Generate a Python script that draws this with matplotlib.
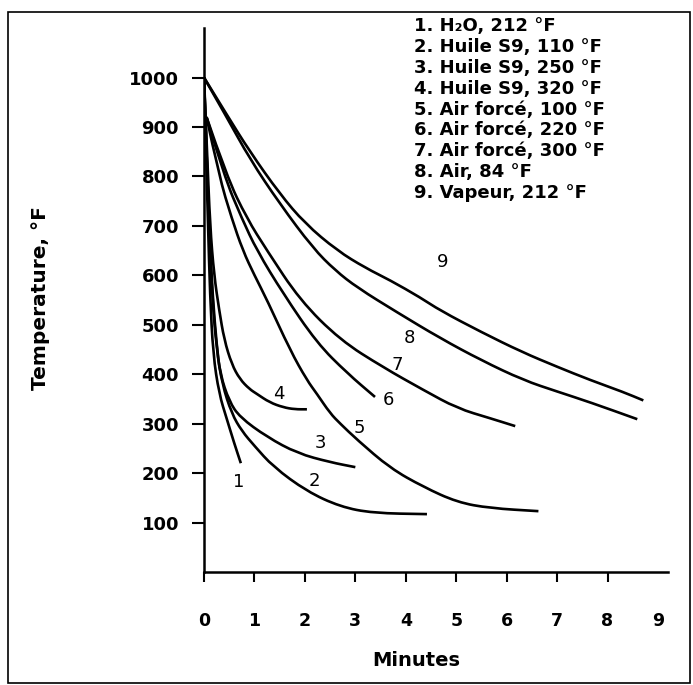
import matplotlib
matplotlib.use("Agg")
import matplotlib.pyplot as plt
from matplotlib.patches import Rectangle, PathPatch
from matplotlib.path import Path

# cooling curves: minutes -> temperature (°F)
x1 = [0, 0.04, 0.08, 0.12, 0.18, 0.3, 0.45, 0.6, 0.73]
y1 = [1000, 850, 700, 560, 440, 360, 310, 260, 220]

x2 = [0, 0.05, 0.1, 0.16, 0.25, 0.36, 0.55, 0.75, 1.0, 1.37, 2.04, 2.7, 3.35, 4.42]
y2 = [1000, 850, 700, 560, 450, 380, 320, 285, 255, 213, 163, 132, 119, 117]

x3 = [0, 0.05, 0.1, 0.17, 0.25, 0.32, 0.5, 0.71, 1.25, 1.85, 2.5, 3.0]
y3 = [1000, 850, 700, 560, 460, 400, 345, 313, 273, 240, 222, 212]

x4 = [0, 0.06, 0.12, 0.2, 0.3, 0.4, 0.55, 0.71, 0.9, 1.05, 1.3, 1.57, 1.8, 2.04]
y4 = [1000, 850, 700, 600, 530, 470, 420, 390, 370, 360, 343, 333, 329, 329]

x5 = [0.05, 0.3, 0.55, 0.77, 1.0, 1.25, 1.71, 2.04, 2.24, 2.5, 2.7, 3.04, 3.69,
      4.35, 5.02, 5.67, 6.63]
y5 = [920, 800, 715, 650, 600, 550, 448, 388, 360, 321, 300, 267, 210,
      172, 141, 129, 123]

x6 = [0.05, 0.4, 0.75, 1.05, 1.57, 2.24, 2.84, 3.39]
y6 = [920, 800, 715, 650, 563, 463, 402, 354]

x7 = [0.05, 0.45, 0.85, 1.25, 1.9, 2.7, 3.55, 4.35, 5.02, 5.67, 6.17]
y7 = [920, 800, 715, 650, 550, 469, 414, 368, 331, 311, 295]

x8 = [0, 0.45, 0.91, 1.5, 2.16, 2.6, 3.04, 3.83, 4.68, 5.5, 6.33, 7.0, 7.66, 8.59]
y8 = [1000, 920, 835, 745, 655, 610, 575, 525, 473, 428, 388, 365, 343, 309]

x9 = [0, 0.45, 0.91, 1.5, 2.0, 2.64, 3.2, 3.69, 4.29, 4.68, 5.5, 6.3, 7.0,
      7.66, 8.31, 8.71]
y9 = [1000, 925, 850, 765, 705, 650, 615, 590, 555, 529, 485, 445, 415,
      388, 364, 347]

curves = [(x1, y1), (x2, y2), (x3, y3), (x4, y4), (x5, y5),
          (x6, y6), (x7, y7), (x8, y8), (x9, y9)]

legend_lines = [
    "1. H\u2082O, 212 °F",
    "2. Huile S9, 110 °F",
    "3. Huile S9, 250 °F",
    "4. Huile S9, 320 °F",
    "5. Air forcé, 100 °F",
    "6. Air forcé, 220 °F",
    "7. Air forcé, 300 °F",
    "8. Air, 84 °F",
    "9. Vapeur, 212 °F",
]

# where each curve number sits (data coords)
label_pos = [(0.69, 182), (2.18, 184), (2.30, 261), (1.49, 360), (3.08, 291),
             (3.65, 347), (3.83, 418), (4.07, 473), (4.74, 626)]

xticks = list(range(10))
yticks = list(range(100, 1001, 100))


def smooth_path(xs, ys):
    # read points used as quadratic Bezier controls, so the drawn line is smooth
    pts = list(zip(xs, ys))
    verts = [pts[0]]
    codes = [Path.MOVETO]
    for i in range(1, len(pts) - 1):
        mid = ((pts[i][0] + pts[i + 1][0]) / 2, (pts[i][1] + pts[i + 1][1]) / 2)
        verts += [pts[i], mid]
        codes += [Path.CURVE3, Path.CURVE3]
    verts.append(pts[-1])
    codes.append(Path.LINETO)
    return Path(verts, codes)


plt.rcParams["font.family"] = "DejaVu Sans"

fig = plt.figure(figsize=(6.93, 6.85), dpi=100)
ax = fig.add_axes([0.2944, 0.165, 0.6696, 0.794])

for xs, ys in curves:
    ax.add_patch(PathPatch(smooth_path(xs, ys), fill=False, edgecolor="black",
                           lw=1.9, capstyle="butt"))

for i, (lx, ly) in enumerate(label_pos):
    ax.text(lx, ly, str(i + 1), fontsize=13, ha="center", va="center")

ax.set_xlim(0, 9.2)
ax.set_ylim(0, 1100)
ax.set_xticks(xticks)
ax.set_xticklabels([str(t) for t in xticks], fontsize=12.5, fontweight="bold")
ax.xaxis.get_major_ticks()[9].tick1line.set_visible(False)
ax.set_yticks(yticks)
ax.set_yticklabels([str(t) for t in yticks], fontsize=13, fontweight="bold")
ax.tick_params(axis="x", direction="out", length=7, width=1.5, pad=22)
ax.tick_params(axis="y", direction="out", length=9, width=1.5, pad=9)
for side in ("top", "right"):
    ax.spines[side].set_visible(False)
for side in ("left", "bottom"):
    ax.spines[side].set_linewidth(1.8)

fig.text(0.058, 0.565, "Temperature, °F", rotation=90, fontsize=14.5,
         fontweight="bold", ha="center", va="center")
fig.text(0.600, 0.036, "Minutes", fontsize=14, fontweight="bold",
         ha="center", va="center")

for i, line in enumerate(legend_lines):
    fig.text(0.597, 1 - (26 + i * 20.9) / 685, line, fontsize=13,
             fontweight="bold", ha="left", va="center")

fig.add_artist(Rectangle((0.012, 0.003), 0.983, 0.979, transform=fig.transFigure,
                         fill=False, edgecolor="black", lw=1.2))

fig.savefig("out.png", dpi=100)
